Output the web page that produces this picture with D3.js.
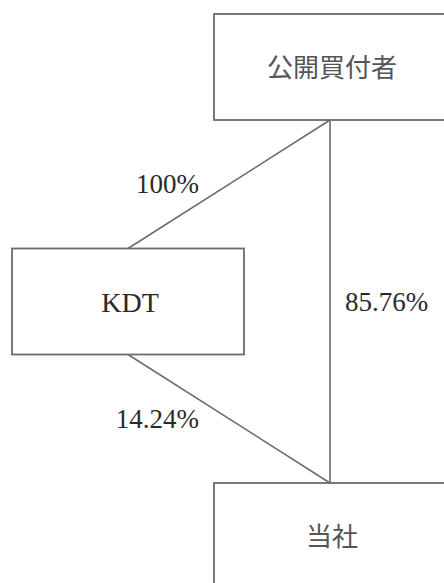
<!DOCTYPE html>
<html><head><meta charset="utf-8">
<script src="https://cdn.jsdelivr.net/npm/d3@7"></script>
<style>html,body{margin:0;padding:0;background:#fff;overflow:hidden}</style>
</head><body>
<svg id="c" width="444" height="583"></svg>
<script>
// Data
const entities = ["公開買付者", "KDT", "当社"];
const entityLevel = [0, 1, 2];
const entityColumn = [1, 0, 1];
const linkSources = ["公開買付者", "公開買付者", "KDT"];
const linkTargets = ["KDT", "当社", "当社"];
const linkShares = [100, 85.76, 14.24];

const svg = d3.select("#c");
const y = d3.scaleLinear().domain([0, 2]).range([67, 536]);
const x = d3.scaleLinear().domain([0, 1]).range([128, 330]);
const boxW = 232, boxH = 106;
const stroke = "#6b6b6b";

const nodes = entities.map((name, i) => ({name, cx: x(entityColumn[i]), cy: y(entityLevel[i])}));
const byName = Object.fromEntries(nodes.map(n => [n.name, n]));
const links = linkSources.map((s, i) => ({s: byName[s], t: byName[linkTargets[i]], v: linkShares[i]}));

function anchor(a, b) {
  // edge attach point: bottom-centre of upper box, top-centre of lower box
  return b.cy > a.cy ? [a.cx + (b.cx < a.cx ? 0 : 0), a.cy + boxH / 2] : [a.cx, a.cy - boxH / 2];
}

svg.append("g").selectAll("line").data(links).join("line")
  .attr("x1", d => anchor(d.s, d.t)[0] + (d.s.cx === d.t.cx ? 0 : 0))
  .attr("y1", d => anchor(d.s, d.t)[1])
  .attr("x2", d => anchor(d.t, d.s)[0])
  .attr("y2", d => anchor(d.t, d.s)[1])
  .attr("stroke", stroke).attr("stroke-width", 1.6);

svg.append("g").selectAll("rect").data(nodes).join("rect")
  .attr("x", d => d.cx - boxW / 2).attr("y", d => d.cy - boxH / 2)
  .attr("width", boxW).attr("height", boxH)
  .attr("fill", "#fff").attr("stroke", stroke).attr("stroke-width", 1.8);

svg.append("g").selectAll("text").data(nodes).join("text")
  .attr("x", d => d.cx + 2).attr("y", d => d.cy + 10)
  .attr("text-anchor", "middle")
  .attr("font-family", d => /^[A-Za-z]+$/.test(d.name) ? "Liberation Serif" : "Noto Sans CJK JP")
  .attr("font-size", d => /^[A-Za-z]+$/.test(d.name) ? 28 : 26)
  .attr("fill", d => /^[A-Za-z]+$/.test(d.name) ? "#2a2a2a" : "#555")
  .text(d => d.name);

svg.append("g").selectAll("text").data(links).join("text")
  .each(function(d) {
    const a = anchor(d.s, d.t), b = anchor(d.t, d.s);
    const mx = (a[0] + b[0]) / 2, my = (a[1] + b[1]) / 2;
    const vertical = d.s.cx === d.t.cx;
    d3.select(this)
      .attr("x", vertical ? mx + 15 : mx - 30)
      .attr("y", my + 9)
      .attr("text-anchor", vertical ? "start" : "end");
  })
  .attr("font-family", "Liberation Serif").attr("font-size", 27)
  .attr("fill", "#2a2a2a")
  .text(d => d3.format(".2~f")(d.v) + "%");
</script>
</body></html>
